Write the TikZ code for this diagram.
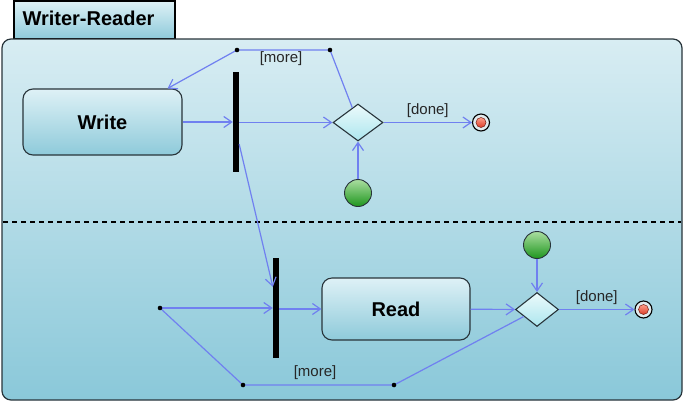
\documentclass[tikz,border=0pt]{standalone}
\usepackage{fontspec}
\setmainfont{Liberation Sans}
\usetikzlibrary{shapes.geometric,arrows.meta,calc}
\definecolor{flow}{RGB}{112,128,240}
\definecolor{frametop}{RGB}{216,237,243}
\definecolor{framebot}{RGB}{138,200,217}
\definecolor{boxtop}{RGB}{222,241,246}
\definecolor{boxbot}{RGB}{142,202,218}
\definecolor{outline}{RGB}{40,52,58}
\begin{document}
\begin{tikzpicture}[x=1pt,y=-1pt,
  flowline/.style={draw=flow, line width=1.2pt, -{Straight Barb[length=8pt,width=11pt]}},
  plainline/.style={draw=flow, line width=1.2pt},
  actbox/.style={draw=outline, line width=1.1pt, rounded corners=10pt, top color=boxtop, bottom color=boxbot, font=\fontsize{20}{22}\selectfont\bfseries, inner sep=0pt},
  forkbar/.style={fill=black, draw=none, inner sep=0pt, minimum width=6pt, minimum height=100pt},
  decision/.style={diamond, draw=outline, line width=1.1pt, inner sep=0pt, top color={rgb,255:red,236;green,250;blue,251}, bottom color={rgb,255:red,172;green,230;blue,238}},
  initnode/.style={circle, draw=outline, line width=0.9pt, inner sep=0pt, minimum size=27pt, top color={rgb,255:red,170;green,222;blue,160}, bottom color={rgb,255:red,30;green,150;blue,30}},
  finalouter/.style={circle, draw=black, line width=1.1pt, inner sep=0pt, minimum size=17pt, fill={rgb,255:red,225;green,235;blue,238}},
  finalinner/.style={circle, draw={rgb,255:red,120;green,30;blue,20}, line width=0.5pt, inner sep=0pt, minimum size=10pt, top color={rgb,255:red,255;green,160;blue,140}, bottom color={rgb,255:red,220;green,60;blue,40}},
  guard/.style={font=\fontsize{15}{17}\selectfont, text=black!85, inner sep=1pt},
  bendpt/.style={fill=black}
]
\useasboundingbox (0,0) rectangle (684,402);
% tab and frame
\path[draw=black, line width=1.2pt, top color=boxtop, bottom color=boxbot] (14,1) rectangle (175,39);
\node[font=\fontsize{20}{22}\selectfont\bfseries, anchor=west] (title) at (19,18) {Writer-Reader};
\path[draw=outline, line width=1.2pt, rounded corners=9pt, top color=frametop, bottom color=framebot] (2,39) rectangle (682,400);
\draw[line width=1.4pt, dash pattern=on 5pt off 4pt] (3,222) -- (681,222);

% upper partition
\node[actbox, minimum width=159pt, minimum height=66pt] (w) at (102.5,122) {Write};
\node[forkbar] (f1) at (236,122) {};
\node[decision, minimum width=50pt, minimum height=37pt] (d1) at (358,122.5) {};
\node[initnode] (i1) at (358,193) {};
\node[finalouter] (e1) at (481,122.5) {};
\node[finalinner] (e1in) at (481,122.5) {};
\coordinate (m1) at (330,50);
\coordinate (m2) at (237,50);

% lower partition
\node[actbox, minimum width=148pt, minimum height=62pt] (r) at (396,309) {Read};
\node[forkbar] (f2) at (276,308) {};
\node[decision, minimum width=43pt, minimum height=34pt] (d2) at (537,309.5) {};
\node[initnode] (i2) at (537,245) {};
\node[finalouter] (e2) at (643.5,309.5) {};
\node[finalinner] (e2in) at (643.5,309.5) {};
\coordinate (m3) at (160,308);
\coordinate (m4) at (243,385);
\coordinate (m5) at (394,385);

% connectors upper
\draw[flowline] (w) -- (f1);
\draw[flowline] (f1.east |- d1.west) -- (d1.west);
\draw[flowline] (d1) -- (e1) node[guard, midway, above=3pt] (g1) {[done]};
\draw[flowline] (i1) -- (d1.south);
\draw[flowline] (d1) -- (m1) -- (m2) -- ([xshift=-15pt]w.north east);
\node[guard] (g2) at (281,59) {[more]};
\draw[flowline] ([yshift=28pt]f1.south east) -- ([yshift=-29pt]f2.north west);

% connectors lower
\draw[flowline] (m3) -- (m3 -| f2.west);
\draw[flowline] (f2.east |- r.west) -- (r.west);
\draw[flowline] (r) -- (d2);
\draw[flowline] (d2) -- (e2) node[guard, midway, above=3pt] (g3) {[done]};
\draw[flowline] (i2) -- (d2.north);
\draw[plainline] (d2) -- (m5) -- (m4) -- (m3);
\node[guard] (g4) at (315,373) {[more]};

% bend points
\foreach \p in {m1,m2,m3,m4,m5} \fill[bendpt] (\p) circle (2.3pt);
\end{tikzpicture}
\end{document}
